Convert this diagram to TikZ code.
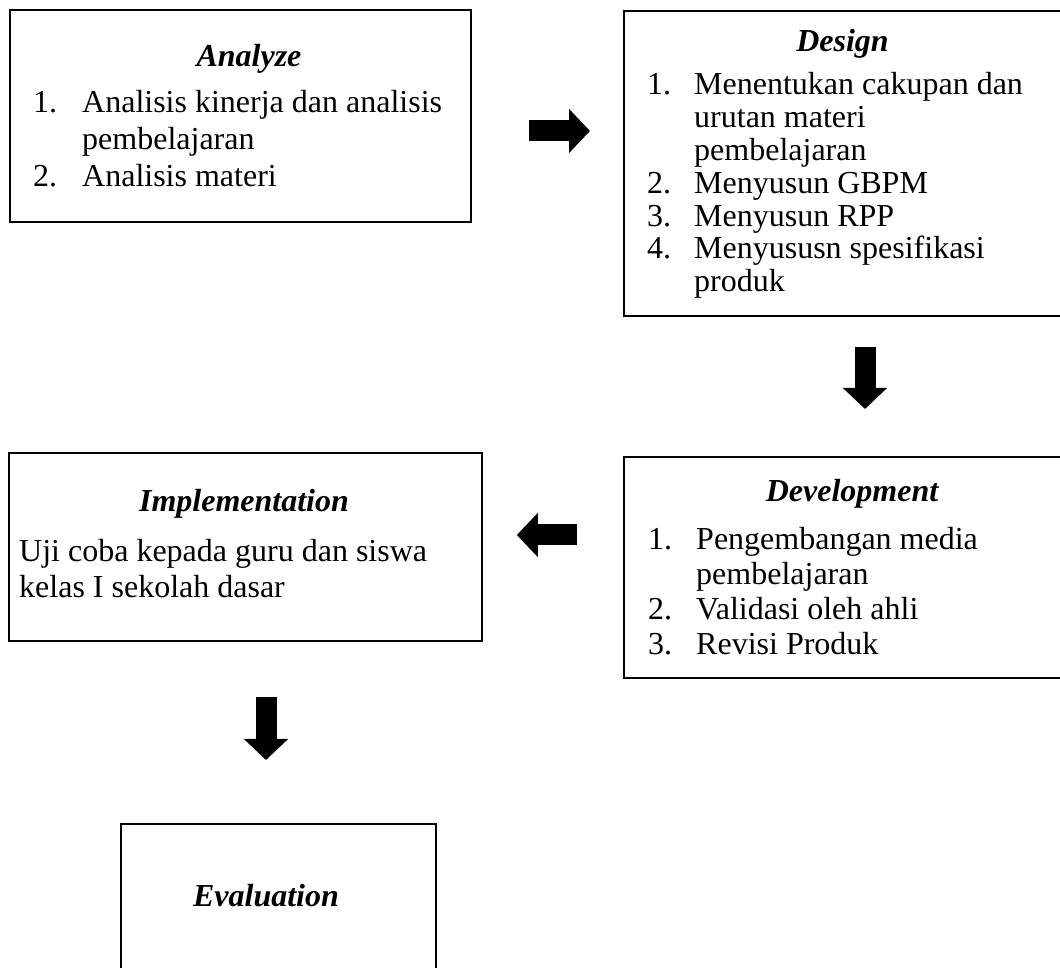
\documentclass[tikz,border=0pt]{standalone}
\usepackage{fontspec}
\setmainfont{Liberation Serif}
\usetikzlibrary{arrows.meta}
\tikzstyle{box}=[draw,line width=1.8pt,rectangle,inner sep=0,anchor=north west]
\tikzstyle{blockarrow}=[line width=21pt,-{Triangle[length=21pt,width=43pt]},black]
\tikzstyle{title}=[inner sep=0,anchor=base,font=\fontsize{32}{37}\selectfont\bfseries\itshape]
\tikzstyle{steps}=[inner sep=0,anchor=base west]
\def\size#1{\fontsize{32}{#1}\selectfont}

\begin{document}
\begin{tikzpicture}[x=1pt,y=1pt]
        \useasboundingbox (0,0) rectangle (1060,968);
        \clip (0,0) rectangle (1060,968);

        % boxes
        \node[box,minimum width=461,minimum height=212] (analyze) at (9,959) {};
        \node[box,minimum width=452,minimum height=305] (design) at (623,958) {};
        \node[box,minimum width=452,minimum height=221] (development) at (623,512) {};
        \node[box,minimum width=473,minimum height=188] (implementation) at (8,516) {};
        \node[box,minimum width=315,minimum height=180] (evaluation) at (120,145) {};

        % titles
        \node[title] at (249,901) {Analyze};
        \node[title] at (842.5,916) {Design};
        \node[title] at (852,466) {Development};
        \node[title] at (244,456) {Implementation};
        \node[title] at (266,61) {Evaluation};

        % contents
        \node[steps,font=\size{37}] at (33,855) {%
            \begin{tabular}[t]{@{}p{49pt}@{}l@{}}
            1. & Analisis kinerja dan analisis\\
               & pembelajaran\\
            2. & Analisis materi
            \end{tabular}};
        \node[steps,font=\size{32.8}] at (647,873) {%
            \begin{tabular}[t]{@{}p{47pt}@{}l@{}}
            1. & Menentukan cakupan dan\\
               & urutan materi\\
               & pembelajaran\\
            2. & Menyusun GBPM\\
            3. & Menyusun RPP\\
            4. & Menyususn spesifikasi\\
               & produk
            \end{tabular}};
        \node[steps,font=\size{35}] at (648,418) {%
            \begin{tabular}[t]{@{}p{48pt}@{}l@{}}
            1. & Pengembangan media\\
               & pembelajaran\\
            2. & Validasi oleh ahli\\
            3. & Revisi Produk
            \end{tabular}};
        \node[steps,font=\size{36}] at (19,406) {%
            \begin{tabular}[t]{@{}l@{}}
            Uji coba kepada guru dan siswa\\
            kelas I sekolah dasar
            \end{tabular}};

        % arrows
        \draw[blockarrow,shorten <=57pt,shorten >=33pt]
            (analyze.east |- 0,837) -- (design.west |- 0,837);
        \draw[blockarrow,shorten <=30pt,shorten >=47pt]
            (design.south -| 865,0) -- (development.north -| 865,0);
        \draw[blockarrow,shorten <=46pt,shorten >=34pt]
            (development.west |- 0,433) -- (implementation.east |- 0,433);
        \draw[blockarrow,shorten <=55pt,shorten >=63pt]
            (implementation.south -| 266,0) -- (evaluation.north -| 266,0);
    \end{tikzpicture}
\end{document}
